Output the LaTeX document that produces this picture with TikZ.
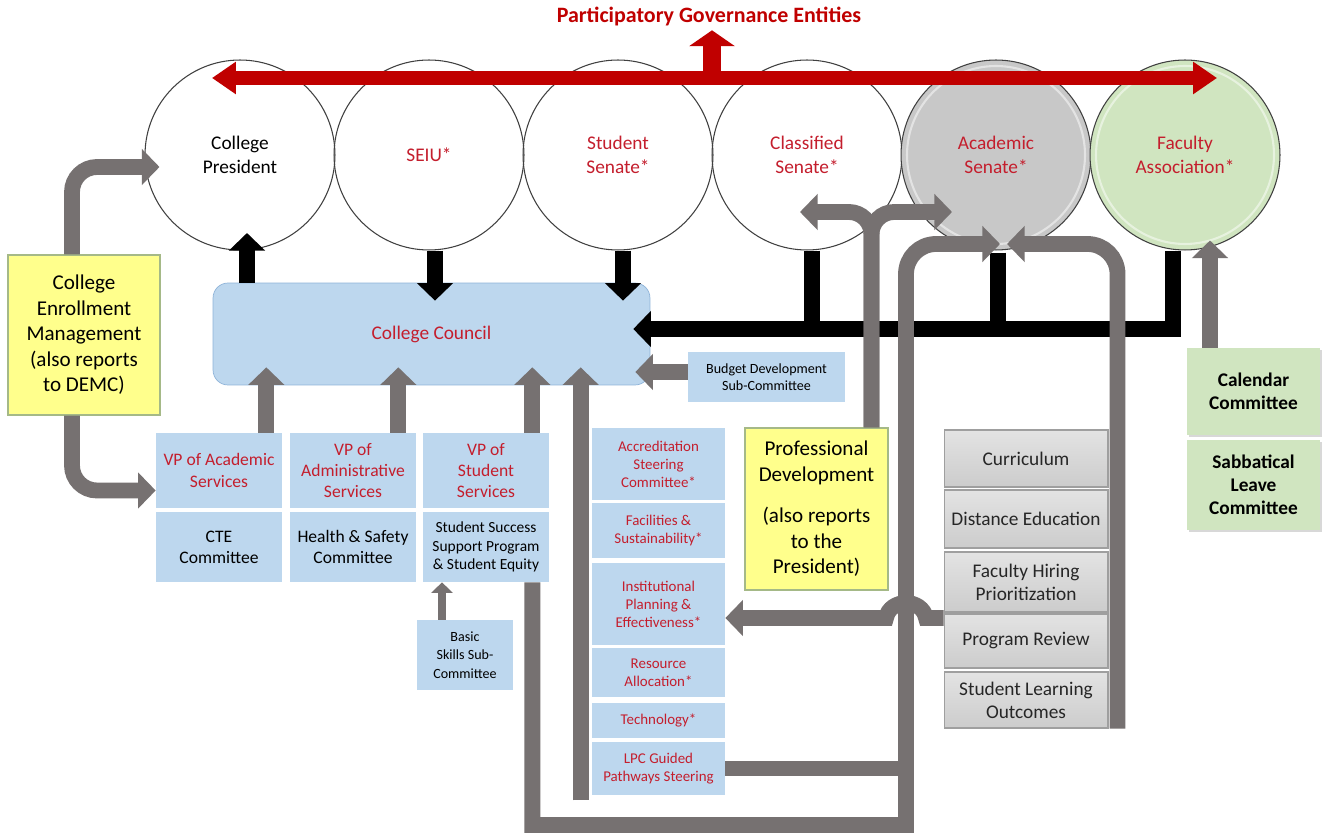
\documentclass[tikz,border=0pt]{standalone}
\usepackage{fontspec}
\setmainfont{Carlito}
\usetikzlibrary{arrows.meta,calc,positioning,shadows}

\definecolor{govred}{RGB}{192,0,0}
\definecolor{labred}{RGB}{196,30,45}
\definecolor{ccblue}{RGB}{189,215,238}
\definecolor{ccedge}{RGB}{143,180,217}
\definecolor{noteyel}{RGB}{255,255,140}
\definecolor{noteedge}{RGB}{165,185,135}
\definecolor{linkgray}{RGB}{118,113,113}
\definecolor{asgray}{RGB}{200,200,200}
\definecolor{fagreen}{RGB}{208,229,192}

\begin{document}
\begin{tikzpicture}[x=0.02cm, y=-0.02cm,
    govcircle/.style={circle, draw=black!75, line width=0.6pt, minimum size=3.8cm, inner sep=0pt,
      align=center, font=\fontsize{11}{13.6}\selectfont},
    bluebox/.style={rectangle, fill=ccblue, inner sep=1pt, align=center},
    vpbox/.style={bluebox, minimum width=2.52cm, text=labred, font=\fontsize{10}{12}\selectfont},
    subbox/.style={bluebox, minimum width=2.52cm, font=\fontsize{10}{12}\selectfont},
    colbox/.style={bluebox, minimum width=2.66cm, text=labred, font=\fontsize{8.5}{10.3}\selectfont},
    notebox/.style={rectangle, draw=noteedge, fill=noteyel, line width=0.6pt, align=center,
      font=\fontsize{12}{14.5}\selectfont},
    acbox/.style={rectangle, draw=gray!75, top color=gray!22, bottom color=gray!40, line width=0.6pt,
      minimum width=3.28cm, inner sep=1pt, align=center, text=black!85, font=\fontsize{11}{13}\selectfont},
    fabox/.style={rectangle, fill=fagreen, minimum width=2.66cm, align=center,
      drop shadow={shadow xshift=1.2pt, shadow yshift=-1.2pt, opacity=0.3},
      font=\fontsize{11}{13}\selectfont\bfseries},
    blkarr/.style={draw=black, line width=9.5pt, -{Triangle[width=20pt,length=10pt]}},
    blkbar/.style={draw=black, line width=9.5pt},
    grayarr/.style={draw=linkgray, line width=9pt, -{Triangle[width=20pt,length=10pt]}},
    graybar/.style={draw=linkgray, line width=9pt},
    redarr/.style={draw=govred, line width=8.5pt,
      {Triangle[width=17.6pt,length=13.6pt]}-{Triangle[width=17.6pt,length=13.6pt]}},
    redup/.style={draw=govred, line width=10.8pt, -{Triangle[width=25.5pt,length=9pt]}}]

  \path[use as bounding box, fill=white] (0,0) rectangle (1322,837);

  % governance entities
  \node[font=\fontsize{12.5}{15}\selectfont\bfseries, text=govred, inner sep=2pt] (title) at (709,17)
    {Participatory Governance Entities};
  \node[govcircle] (pres) at (240,155) {College\\President};
  \node[govcircle, text=labred] (seiu) at (429,155) {SEIU*};
  \node[govcircle, text=labred] (ss) at (618,155) {Student\\Senate*};
  \node[govcircle, text=labred] (cs) at (807,155) {Classified\\Senate*};
  \node[govcircle, text=labred, fill=asgray] (as) at (996,155) {Academic\\Senate*};
  \node[govcircle, text=labred, fill=fagreen] (fa) at (1185,155) {Faculty\\Association*};
  \draw[white, line width=1.2pt, opacity=0.5] (as.center) circle (1.78cm);
  \draw[white, line width=1.2pt, opacity=0.5] (fa.center) circle (1.78cm);

  % council and committees
  \node[draw=ccedge, fill=ccblue, rounded corners=0.3cm, minimum width=8.74cm, minimum height=2.04cm,
    text=labred, font=\fontsize{11}{13}\selectfont] (cc) at (431.5,334) {College Council};
  \node[bluebox, minimum width=3.14cm, minimum height=1cm, font=\fontsize{8}{10}\selectfont] (bud)
    at (766.5,377) {Budget Development\\Sub-Committee};
  \node[notebox, minimum width=3.04cm, minimum height=3.2cm] (cem) at (84,335)
    {College\\Enrollment\\Management\\(also reports\\to DEMC)};

  \node[vpbox, minimum height=1.5cm] (vpa) at (219,470.5) {VP of Academic\\Services};
  \node[subbox, minimum height=1.4cm] (cte) at (219,547) {CTE\\Committee};
  \node[vpbox, minimum height=1.5cm] (vpad) at (353,470.5) {VP of\\Administrative\\Services};
  \node[subbox, minimum height=1.4cm] (hsc) at (353,547) {Health \& Safety\\Committee};
  \node[vpbox, minimum height=1.5cm] (vps) at (486,470.5) {VP of\\Student\\Services};
  \node[subbox, minimum height=1.4cm, font=\fontsize{8.8}{10.7}\selectfont] (sss) at (486,547)
    {Student Success\\Support Program\\\& Student Equity};
  \node[bluebox, minimum width=1.92cm, minimum height=1.4cm, font=\fontsize{8}{10.4}\selectfont] (bsk)
    at (465,655) {Basic\\Skills Sub-\\Committee};

  \node[colbox, minimum height=1.44cm] (acc) at (658.5,464) {Accreditation\\Steering\\Committee*};
  \node[colbox, minimum height=1.1cm] (fac) at (658.5,530.5) {Facilities \&\\Sustainability*};
  \node[colbox, minimum height=1.64cm] (ip) at (658.5,604) {Institutional\\Planning \&\\Effectiveness*};
  \node[colbox, minimum height=0.98cm] (res) at (658.5,672.5) {Resource\\Allocation*};
  \node[colbox, minimum height=0.7cm] (tec) at (658.5,720.5) {Technology*};
  \node[colbox, minimum height=1.06cm] (lpc) at (658.5,768.5) {LPC Guided\\Pathways Steering};

  \node[notebox, minimum width=2.86cm, minimum height=3.24cm] (pd) at (816.5,509)
    {Professional\\Development\\[9pt](also reports\\to the\\President)};

  \node[acbox, minimum height=1.14cm] (cur) at (1026,458.5) {Curriculum};
  \node[acbox, minimum height=1.16cm] (de) at (1026,519) {Distance Education};
  \node[acbox, minimum height=1.2cm] (fhp) at (1026,582) {Faculty Hiring\\Prioritization};
  \node[acbox, minimum height=1.08cm] (pr) at (1026,641) {Program Review};
  \node[acbox, minimum height=1.12cm] (slo) at (1026,700) {Student Learning\\Outcomes};

  \node[fabox, minimum height=1.74cm] (cal) at (1253.5,391.5) {Calendar\\Committee};
  \node[fabox, minimum height=1.8cm] (sab) at (1253.5,485) {Sabbatical\\Leave\\Committee};

  % black links to the council
  \coordinate (presin) at ($(pres.center)+(7,78)$);
  \coordinate (seiuout) at ($(seiu.south)+(6,0)$);
  \coordinate (ssout) at ($(ss.south)+(5,0)$);
  \coordinate (csout) at ($(cs.south)+(5,0)$);
  \coordinate (asout) at ($(as.south)+(2,2)$);
  \coordinate (ccT) at ($(cc.north)+(0,18)$);
  \coordinate (busL) at ($(cc.east)+(-17,-5)$);
  \coordinate (busR) at ($(fa.south)+(-12,0)$);
  \draw[blkarr] (cc.north -| presin) -- (presin);
  \draw[blkarr] (seiuout) -- (seiuout |- ccT);
  \draw[blkarr] (ssout) -- (ssout |- ccT);
  \draw[blkbar] (csout) -- (csout |- busL);
  \draw[blkbar] (asout) -- (asout |- busL);
  \draw[blkarr] (busR) |- (busL);

  % gray reporting lines
  \coordinate (ccB) at ($(cc.south)+(0,-18)$);
  \coordinate (ccEb) at ($(cc.east)+(-15,38)$);
  \coordinate (vpaout) at ($(vpa.north east)+(-16,0)$);
  \coordinate (vpadout) at ($(vpad.north east)+(-18,0)$);
  \coordinate (vpsout) at ($(vps.north east)+(-17,0)$);
  \coordinate (colout) at ($(lpc.south west)+(-11,5)$);
  \coordinate (bskout) at ($(bsk.north)+(-23,0)$);
  \draw[grayarr, rounded corners=0.5cm] ($(cem.north)+(-12,0)$) |- ($(pres.west)+(15,12)$);
  \draw[grayarr, rounded corners=0.5cm] ($(cem.south)+(-12,0)$) |- ($(vpa.west)+(0,20)$);
  \draw[grayarr] (vpaout) -- (vpaout |- ccB);
  \draw[grayarr] (vpadout) -- (vpadout |- ccB);
  \draw[grayarr] (vpsout) -- (vpsout |- ccB);
  \draw[grayarr] (colout) -- (colout |- ccB);
  \draw[grayarr] (bud.west |- ccEb) -- (ccEb);
  \draw[draw=linkgray, line width=5pt, -{Triangle[width=12pt,length=6pt]}] (bskout) -- (bskout |- sss.south);

  \coordinate (routeBR) at (906,825);
  \coordinate (asL) at ($(as.center)+(4,89)$);
  \coordinate (asR) at ($(as.center)+(11,89)$);
  \coordinate (sssout) at ($(sss.south east)+(-17,0)$);
  \draw[grayarr] (sssout) |- (routeBR) -- ++(0,-200) [rounded corners=0.6cm] |- (asL);
  \draw[graybar] (lpc.east) -- (lpc.east -| routeBR);
  \draw[grayarr, rounded corners=0.6cm] ($(slo.south east)+(9,0)$) |- (asR);

  \coordinate (pdout) at ($(pd.north)+(55,0)$);
  \coordinate (csin) at ($(cs.center)+(-7,57)$);
  \coordinate (asin) at ($(as.center)+(-44,57)$);
  \draw[grayarr, rounded corners=0.45cm] (pdout) |- (csin);
  \draw[grayarr, rounded corners=0.45cm] (pdout) |- (asin);

  \coordinate (hopR) at (926,618);
  \coordinate (hopL) at (886,618);
  \draw[grayarr] (pr.west |- hopR) -- (hopR) .. controls +(-4,-20) and +(4,-20) .. (hopL) -- (hopL -| ip.east);

  \coordinate (fain) at ($(fa.south)+(25,-10)$);
  \draw[grayarr] (cal.north -| fain) -- (fain);

  % red band over the entities
  \coordinate (redL) at ($(pres.center)+(-28,-77)$);
  \coordinate (redR) at ($(fa.center)+(32,-77)$);
  \coordinate (redmid) at (712,78);
  \draw[redarr] (redL) -- (redR);
  \draw[redup] (redmid) -- (redmid |- title.south);
\end{tikzpicture}
\end{document}
